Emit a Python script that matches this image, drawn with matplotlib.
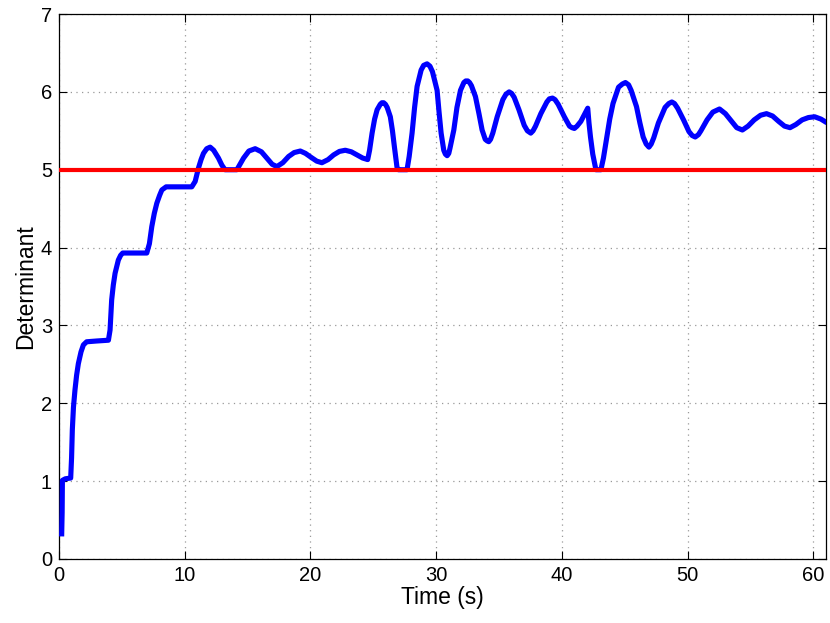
import matplotlib
matplotlib.use("Agg")
import matplotlib.pyplot as plt

plt.rcParams['font.family'] = ['Liberation Sans', 'DejaVu Sans']

# Determinant vs time
time_s = [0.21, 0.25, 0.27, 0.5, 0.93, 1.0, 1.06, 1.15, 1.27, 1.4, 1.54, 1.75, 1.94, 2.2, 3.0,
          3.93, 4.06, 4.19, 4.32, 4.46, 4.72, 4.9, 5.07, 6.98, 7.19, 7.38, 7.58, 7.78, 8.0, 8.18, 8.52,
          10.56, 10.83, 11.09, 11.3, 11.49, 11.75, 12.02, 12.3, 12.68, 12.95, 13.2, 14.15, 14.4,
          14.68, 15.1, 15.6, 16.1, 16.53, 16.95, 17.33, 17.8, 18.26, 18.7, 19.19, 19.6, 20.04,
          20.5, 20.91, 21.4, 21.84, 22.3, 22.77, 23.25, 23.7, 24.15, 24.55, 24.7, 24.9, 25.1,
          25.3, 25.55, 25.68, 25.82, 25.96, 26.1, 26.35, 26.52, 26.67, 26.89, 27.0, 27.68, 27.85,
          28.08, 28.28, 28.48, 28.8, 29.0, 29.27, 29.5, 29.7, 30.07, 30.22, 30.39, 30.6, 30.73,
          30.87, 31.0, 31.1, 31.4, 31.65, 31.93, 32.2, 32.35, 32.51, 32.65, 32.8, 33.12, 33.4,
          33.65, 33.9, 34.05, 34.18, 34.32, 34.5, 34.85, 35.3, 35.55, 35.8, 36.0, 36.2,
          36.58, 37.0, 37.25, 37.52, 37.7, 37.9, 38.32, 38.8, 39.0, 39.25, 39.45, 39.7, 40.19,
          40.6, 40.8, 40.99, 41.2, 41.5, 41.85, 42.05, 42.15, 42.27, 42.45, 42.6, 42.7, 43.1,
          43.3, 43.53, 43.8, 44.06, 44.5, 44.8, 45.05, 45.3, 45.5, 45.93, 46.2, 46.46, 46.7,
          46.92, 47.1, 47.3, 47.67, 48.2, 48.5, 48.74, 48.95, 49.2, 49.67, 50.1, 50.35, 50.6,
          50.85, 51.05, 51.54, 52.0, 52.53, 53.0, 53.5, 53.9, 54.35, 54.8, 55.29, 55.8, 56.27,
          56.75, 57.24, 57.7, 58.14, 58.6, 59.1, 59.6, 60.1, 60.6, 61.0, 61.3]
determinant = [0.29, 0.6, 1.01, 1.03, 1.04, 1.3, 1.66, 1.95, 2.17, 2.36, 2.51, 2.66, 2.75, 2.79, 2.80,
               2.81, 2.94, 3.33, 3.52, 3.67, 3.84, 3.90, 3.93, 3.93, 4.05, 4.27, 4.44, 4.57, 4.67, 4.74, 4.78,
               4.78, 4.85, 5.02, 5.13, 5.21, 5.27, 5.29, 5.25, 5.15, 5.06, 5.0, 5.0, 5.07,
               5.15, 5.24, 5.27, 5.23, 5.15, 5.07, 5.04, 5.09, 5.17, 5.22, 5.24, 5.21, 5.16,
               5.11, 5.09, 5.13, 5.19, 5.235, 5.25, 5.23, 5.19, 5.15, 5.13, 5.25, 5.47, 5.65,
               5.77, 5.84, 5.86, 5.86, 5.84, 5.8, 5.68, 5.5, 5.30, 5.02, 5.0, 5.0, 5.17,
               5.47, 5.8, 6.07, 6.28, 6.34, 6.36, 6.33, 6.26, 6.02, 5.75, 5.47, 5.25, 5.2,
               5.18, 5.21, 5.28, 5.51, 5.8, 6.02, 6.12, 6.14, 6.14, 6.12, 6.08, 5.94, 5.72,
               5.51, 5.39, 5.37, 5.36, 5.39, 5.47, 5.68, 5.9, 5.97, 6.0, 5.98, 5.93,
               5.77, 5.57, 5.5, 5.47, 5.5, 5.56, 5.72, 5.87, 5.91, 5.92, 5.9, 5.84, 5.68,
               5.56, 5.54, 5.53, 5.56, 5.62, 5.73, 5.79, 5.6, 5.42, 5.2, 5.08, 5.0, 5.0,
               5.15, 5.38, 5.65, 5.85, 6.06, 6.1, 6.12, 6.09, 6.02, 5.81, 5.6, 5.42, 5.33,
               5.29, 5.33, 5.41, 5.6, 5.8, 5.85, 5.87, 5.85, 5.79, 5.64, 5.49, 5.44, 5.42,
               5.45, 5.5, 5.64, 5.74, 5.78, 5.72, 5.62, 5.54, 5.51, 5.56, 5.64, 5.7, 5.72,
               5.69, 5.62, 5.56, 5.54, 5.58, 5.64, 5.67, 5.68, 5.65, 5.61, 5.59]
threshold = 5.0

x_ticks = [0, 10, 20, 30, 40, 50, 60]
y_ticks = [0, 1, 2, 3, 4, 5, 6, 7]

fig = plt.figure(figsize=(8.30, 6.23), dpi=100)
ax = fig.add_axes([59/830, 1 - 559/623, (826 - 59)/830, (559 - 14)/623])

ax.plot(time_s, determinant, color='#0000ff', lw=3.7, solid_joinstyle='round',
        solid_capstyle='butt', zorder=3)
ax.axhline(threshold, color='#ff0000', lw=3.0, zorder=4)

ax.set_xlim(0, 61)
ax.set_ylim(0, 7)
ax.set_xticks(x_ticks)
ax.set_yticks(y_ticks)
ax.grid(True, color='#999999', linestyle=(0, (1, 3.5)), lw=0.9)
ax.tick_params(direction='in', length=5.5, width=0.8, top=True, right=True,
               labelsize=14.5, pad=5)
for s in ax.spines.values():
    s.set_linewidth(0.9)

ax.set_xlabel('Time (s)', fontsize=16.5, labelpad=1)
ax.set_ylabel('Determinant', fontsize=16.5, labelpad=3)

fig.savefig('out.png', dpi=100)
